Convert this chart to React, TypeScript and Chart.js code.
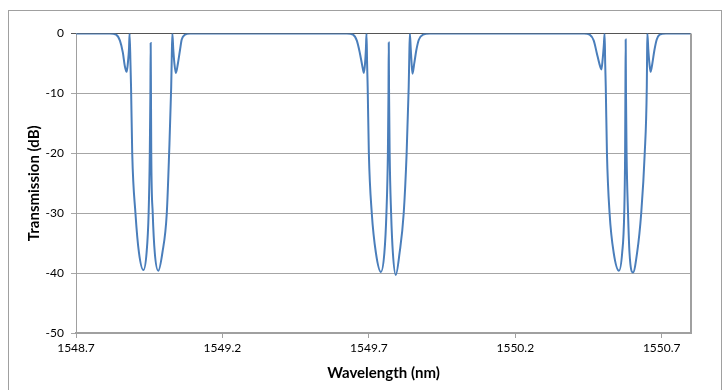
import React, { useEffect, useRef } from "react";
import { Chart, registerables } from "chart.js";

Chart.register(...registerables);

// Wavelength (nm) and transmission (dB), per resonance group
const baselineStart = { wl: 1548.7, db: 0 };
const baselineEnd = { wl: 1550.8, db: 0 };

const group1Wavelength = [
  1548.816, 1548.837, 1548.85, 1548.86, 1548.867, 1548.873, 1548.877, 1548.881, 1548.883, 1548.886,
  1548.888, 1548.892, 1548.903, 1548.915, 1548.93, 1548.941, 1548.948, 1548.952, 1548.954, 1548.955,
  1548.956, 1548.957, 1548.962, 1548.969, 1548.981, 1548.995, 1549.01, 1549.018, 1549.025, 1549.027,
  1549.029, 1549.032, 1549.036, 1549.041, 1549.048, 1549.055, 1549.061, 1549.072, 1549.089,
];
const group1Db = [
  0, -0.2, -1.2, -3.2, -5.5, -6.4, -5, -2.5, 0, -5,
  -9, -20, -30, -36.6, -39.5, -36.6, -30, -20, -10, -1.6,
  -10, -20, -30, -36.6, -39.6, -36.6, -30, -20, -9, -4,
  0, -2.5, -5, -6.6, -5, -2.8, -1.0, -0.2, 0,
];

const group2Wavelength = [
  1549.625, 1549.646, 1549.659, 1549.669, 1549.678, 1549.683, 1549.687, 1549.69, 1549.692, 1549.694,
  1549.696, 1549.7, 1549.71, 1549.724, 1549.741, 1549.753, 1549.76, 1549.765, 1549.767, 1549.768,
  1549.769, 1549.771, 1549.776, 1549.782, 1549.792, 1549.805, 1549.819, 1549.829, 1549.836, 1549.838,
  1549.84, 1549.843, 1549.846, 1549.849, 1549.855, 1549.862, 1549.871, 1549.885, 1549.908,
];
const group2Db = [
  0, -0.2, -1.2, -3.2, -5.5, -6.6, -5, -2.5, 0, -5,
  -9, -20, -30, -36.6, -39.8, -36.6, -30, -20, -10, -1.5,
  -10, -20, -30, -36.6, -40.3, -36.6, -30, -20, -9, -4,
  0, -2.5, -5, -6.7, -5, -2.8, -1.0, -0.2, 0,
];

const group3Wavelength = [
  1550.435, 1550.454, 1550.468, 1550.478, 1550.488, 1550.494, 1550.498, 1550.502, 1550.505, 1550.507,
  1550.509, 1550.513, 1550.522, 1550.536, 1550.554, 1550.565, 1550.572, 1550.575, 1550.576, 1550.577,
  1550.578, 1550.58, 1550.585, 1550.59, 1550.602, 1550.616, 1550.63, 1550.642, 1550.649, 1550.65,
  1550.651, 1550.654, 1550.658, 1550.662, 1550.668, 1550.675, 1550.683, 1550.693, 1550.714,
];
const group3Db = [
  0, -0.2, -1.2, -3.2, -5.2, -6.0, -4.5, -2.2, 0, -5,
  -9, -20, -30, -36.6, -39.6, -36.6, -30, -20, -10, -1.0,
  -10, -20, -30, -36.6, -39.9, -36.6, -30, -20, -9, -4,
  0, -2.5, -5, -6.4, -5, -2.8, -1.0, -0.2, 0,
];

const xTickValues = [1548.7, 1549.2, 1549.7, 1550.2, 1550.7];
const yTickValues = [0, -10, -20, -30, -40, -50];

const xTitle = "Wavelength (nm)";
const yTitle = "Transmission (dB)";

function buildPoints() {
  const pts: { x: number; y: number }[] = [{ x: baselineStart.wl, y: baselineStart.db }];
  const groups: [number[], number[]][] = [
    [group1Wavelength, group1Db],
    [group2Wavelength, group2Db],
    [group3Wavelength, group3Db],
  ];
  for (const [wl, db] of groups) {
    wl.forEach((w, i) => pts.push({ x: w, y: db[i] }));
  }
  pts.push({ x: baselineEnd.wl, y: baselineEnd.db });
  return pts;
}

const rightBorderPlugin = {
  id: "rightBorder",
  afterDraw(chart: any) {
    const { ctx, chartArea } = chart;
    ctx.save();
    ctx.strokeStyle = "#a0a0a0";
    ctx.lineWidth = 2;
    ctx.beginPath();
    ctx.moveTo(chartArea.right, chartArea.top);
    ctx.lineTo(chartArea.right, chartArea.bottom + 1);
    ctx.stroke();
    ctx.restore();
  },
};

export default function App() {
  const canvasRef = useRef<HTMLCanvasElement | null>(null);

  useEffect(() => {
    if (!canvasRef.current) return;
    const tickFont = { family: "Lato", size: 12 };
    const titleFont = { family: "Lato", size: 15, weight: "bold" as const };
    const chart = new Chart(canvasRef.current, {
      type: "line",
      data: {
        datasets: [
          {
            data: buildPoints(),
            borderColor: "#4a7ebb",
            borderWidth: 2,
            pointRadius: 0,
            fill: false,
            cubicInterpolationMode: "monotone",
          },
        ],
      },
      plugins: [rightBorderPlugin],
      options: {
        animation: false,
        responsive: false,
        maintainAspectRatio: false,
        layout: { padding: { left: 0, right: 30, top: 22.5, bottom: 0 } },
        plugins: { legend: { display: false }, tooltip: { enabled: false } },
        scales: {
          x: {
            type: "linear",
            min: baselineStart.wl,
            max: baselineEnd.wl,
            afterBuildTicks: (scale: any) => {
              scale.ticks = xTickValues.map((v) => ({ value: v }));
            },
            afterFit: (scale: any) => {
              scale.height = 57;
            },
            ticks: {
              font: tickFont,
              color: "#000",
              padding: 3,
              maxRotation: 0,
              autoSkip: false,
              callback: (v: any) => Number(v).toFixed(1),
            },
            grid: {
              drawOnChartArea: false,
              drawTicks: true,
              tickLength: 5,
              color: "#a0a0a0",
            },
            border: { display: true, color: "#a0a0a0", width: 2 },
            title: {
              display: true,
              text: xTitle,
              font: titleFont,
              color: "#000",
              padding: { top: 0, bottom: 8 },
            },
          },
          y: {
            type: "linear",
            min: -50,
            max: 0,
            afterBuildTicks: (scale: any) => {
              scale.ticks = yTickValues.map((v) => ({ value: v }));
            },
            afterFit: (scale: any) => {
              scale.width = 67;
            },
            ticks: {
              font: tickFont,
              color: "#000",
              padding: 7,
              callback: (v: any) => String(v),
            },
            grid: {
              drawTicks: true,
              tickLength: 5,
              color: (c: any) => (c.tick && c.tick.value === 0 ? "#555555" : "#a6a6a6"),
              lineWidth: 1,
            },
            border: { display: true, color: "#a0a0a0", width: 1 },
            title: {
              display: true,
              text: yTitle,
              font: titleFont,
              color: "#000",
              padding: { top: 16, bottom: 0 },
            },
          },
        },
      },
    } as any);
    return () => chart.destroy();
  }, []);

  return (
    <div
      style={{
        position: "fixed",
        left: 8,
        top: 10,
        width: 714,
        height: 390,
        border: "1px solid #a0a0a0",
        boxSizing: "border-box",
        background: "#fff",
      }}
    >
      <canvas
        ref={canvasRef}
        width={712}
        height={379}
        style={{ display: "block", width: 712, height: 379 }}
      />
    </div>
  );
}
